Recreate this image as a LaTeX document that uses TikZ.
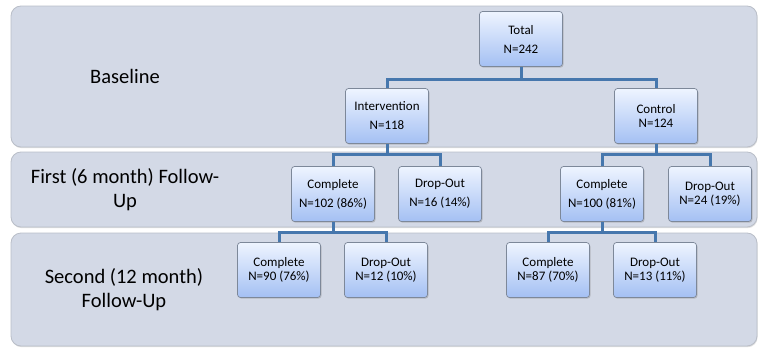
\documentclass[tikz,border=0pt]{standalone}
\usepackage{fontspec}
\setmainfont{Carlito}
\usetikzlibrary{shadows,calc}

\definecolor{bandfill}{HTML}{D3D9E6}
\definecolor{bandline}{HTML}{B9BEC8}
\definecolor{boxtop}{HTML}{EEF4FF}
\definecolor{boxbot}{HTML}{A4C0F3}
\definecolor{boxline}{HTML}{7D8899}
\definecolor{linkblue}{HTML}{4677AD}

\begin{document}
\begin{tikzpicture}[x=1pt,y=-1pt]
\tikzstyle{band}=[draw=bandline,fill=bandfill,rounded corners=10pt,line width=0.8pt,
	drop shadow={shadow xshift=0.6pt,shadow yshift=-1.2pt,opacity=0.25}]
\tikzstyle{grp}=[rectangle,rounded corners=3pt,draw=boxline,line width=0.7pt,
	top color=boxtop,bottom color=boxbot,minimum width=83pt,minimum height=55pt,
	align=center,inner sep=1pt,font=\fontsize{13}{14.5}\selectfont,
	drop shadow={shadow xshift=1pt,shadow yshift=-1.2pt,opacity=0.35}]
\tikzstyle{stage}=[align=center,font=\fontsize{20.5}{24}\selectfont]
\tikzstyle{link}=[linkblue,line width=3pt]

\useasboundingbox (0,0) rectangle (758,348);

% stage bands
\draw[band] (11,6) rectangle (757,147);
\draw[band] (11,152) rectangle (757,227);
\draw[band] (11,233) rectangle (757,346);

\node[stage] (base) at (125,76) {Baseline};
\node[stage] (first) at (125,190) {First (6 month) Follow-\\Up};
\node[stage] (second) at (124,290) {Second (12 month)\\Follow-Up};

% randomisation
\node[grp] (total) at (521,39) {Total\\[4.5pt]N=242};
\node[grp] (intv) at (387,116) {Intervention\\[4.5pt]N=118};
\node[grp] (ctrl) at (656,116) {Control\\N=124};

% first follow-up
\node[grp] (icomp) at (333,194) {Complete\\[4.5pt]N=102 (86\%)};
\node[grp] (idrop) at (440,194) {Drop-Out\\[4.5pt]N=16 (14\%)};
\node[grp] (ccomp) at (602,194) {Complete\\[4.5pt]N=100 (81\%)};
\node[grp] (cdrop) at (710,194) {Drop-Out\\N=24 (19\%)};

% second follow-up
\node[grp] (icomp2) at (279,270) {Complete\\N=90 (76\%)};
\node[grp] (idrop2) at (386,270) {Drop-Out\\N=12 (10\%)};
\node[grp] (ccomp2) at (548,270) {Complete\\N=87 (70\%)};
\node[grp] (cdrop2) at (655,270) {Drop-Out\\N=13 (11\%)};

% connectors
\draw[link] (total.south) -- ++(0,13) -| (intv.north);
\draw[link] (total.south) -- ++(0,13) -| (ctrl.north);
\draw[link] (intv.south) -- ++(0,11) -| (icomp.north);
\draw[link] (intv.south) -- ++(0,11) -| (idrop.north);
\draw[link] (ctrl.south) -- ++(0,11) -| (ccomp.north);
\draw[link] (ctrl.south) -- ++(0,11) -| (cdrop.north);
\draw[link] (icomp.south) -- ++(0,11) -| (icomp2.north);
\draw[link] (icomp.south) -- ++(0,11) -| (idrop2.north);
\draw[link] (ccomp.south) -- ++(0,11) -| (ccomp2.north);
\draw[link] (ccomp.south) -- ++(0,11) -| (cdrop2.north);
\end{tikzpicture}
\end{document}
